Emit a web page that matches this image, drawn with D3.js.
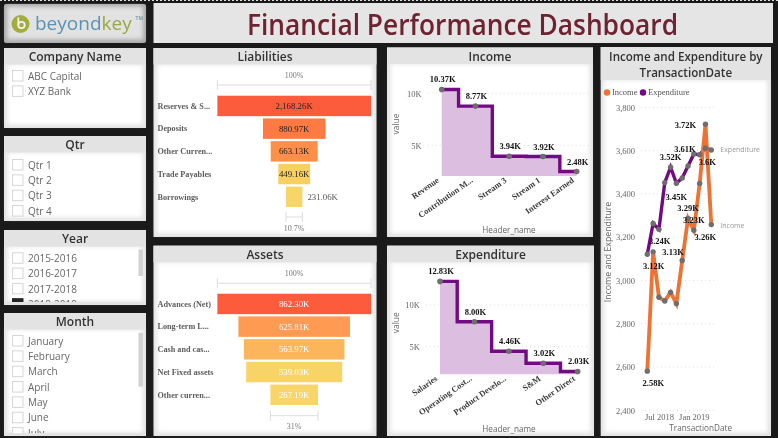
<!DOCTYPE html>
<html><head><meta charset="utf-8">
<script src="https://cdn.jsdelivr.net/npm/d3@7"></script>
<style>
html,body{margin:0;padding:0;background:#1a1a1a;overflow:hidden}
svg{display:block;filter:blur(0.45px);font-family:"Open Sans",sans-serif}
.serif{font-family:"Liberation Serif",serif}
</style></head><body><svg id="c" width="778" height="438"></svg>
<script>
const companies=["ABC Capital","XYZ Bank"];
const quarters=["Qtr 1","Qtr 2","Qtr 3","Qtr 4"];
const years=["2015-2016","2016-2017","2017-2018","2018-2019"];
const months=["January","February","March","April","May","June","July"];

const liabNames=["Reserves & S...","Deposits","Other Curren...","Trade Payables","Borrowings"];
const liabValues=[2168.26,880.97,663.13,449.16,231.06];
const liabColors=["#fd5c3c","#fd7a42","#fe8f48","#f8d060","#f7d568"];
const assetNames=["Advances (Net)","Long-term L...","Cash and cas...","Net Fixed assets","Other curren..."];
const assetValues=[862.30,625.81,563.97,539.03,267.19];
const assetColors=["#fd5c3c","#fe9a52","#fbb65c","#f8d468","#f8d568"];

const incomeNames=["Revenue","Contribution M...","Stream 3","Stream 1","Interest Earned"];
const incomeValues=[10370,8770,3940,3920,2480];
const expNames=["Salaries","Operating Cost...","Product Develo...","S&M","Other Direct"];
const expValues=[12830,8000,4460,3020,2030];

const dates=["May 2018","Jun 2018","Jul 2018","Aug 2018","Sep 2018","Oct 2018","Nov 2018","Dec 2018","Jan 2019","Feb 2019","Mar 2019","Apr 2019"];
const trendIncome=[2581,3132,2922,2905,2945,2893,3092,3286,3232,3448,3722,3258];
const trendExpenditure=[3121,3263,3236,3452,3523,3449,3473,3529,3584,3581,3611,3603];
const trendTicks=[2400,2600,2800,3000,3200,3400,3600,3800];
const dateTicks=["Jul 2018","Jan 2019"];

const svg=d3.select("#c");
const defs=svg.append("defs");
const blur=defs.append("filter").attr("id","soft").attr("x","-10%").attr("y","-10%").attr("width","120%").attr("height","120%");
blur.append("feGaussianBlur").attr("stdDeviation",2.2);
const PURPLE="#720a84",ORANGE="#ed7233",DOT="#6e6e6e",GREY="#666";

svg.append("rect").attr("width",778).attr("height",438).attr("fill","#1a1a1a");
svg.append("line").attr("x1",0).attr("x2",778).attr("y1",.5).attr("y2",.5).attr("stroke","#ddd").attr("stroke-dasharray","2 2");

function panel(x,y,w,h,title,headH,fs,clipId){
  svg.append("rect").attr("x",x).attr("y",y).attr("width",w).attr("height",h).attr("fill","#e3e3e3");
  if(clipId){
    defs.append("clipPath").attr("id",clipId).append("rect").attr("x",x).attr("y",y).attr("width",w).attr("height",h);
  }
  svg.append("rect").attr("x",x+3.5).attr("y",y+headH).attr("width",w-7).attr("height",h-headH-3.5).attr("fill","#fff").attr("filter","url(#soft)");
  svg.append("rect").attr("x",x).attr("y",y).attr("width",w).attr("height",headH).attr("fill","#e3e3e3");
  if(title) [].concat(title).forEach((t,i)=>svg.append("text").attr("x",x+w/2).attr("y",y+headH*0.5+(i-([].concat(title).length-1)/2)*16+5)
    .attr("text-anchor","middle").attr("font-size",fs||12).attr("font-weight",600).attr("fill","#333").text(t));
}

/* logo and title */
svg.append("rect").attr("x",4).attr("y",4).attr("width",142).attr("height",39).attr("rx",2).attr("fill","#a9a9a9");
svg.append("rect").attr("x",7).attr("y",6.5).attr("width",136).attr("height",33).attr("fill","#e2e2e2").attr("filter","url(#soft)");
svg.append("circle").attr("cx",20.5).attr("cy",24).attr("r",9).attr("fill","#a3ad3b");
svg.append("circle").attr("cx",21.5).attr("cy",25).attr("r",3.2).attr("fill","none").attr("stroke","#f2f2f2").attr("stroke-width",1.8);
svg.append("line").attr("x1",18.3).attr("x2",18.3).attr("y1",17.5).attr("y2",25).attr("stroke","#f2f2f2").attr("stroke-width",1.8);
const lt=svg.append("text").attr("x",35).attr("y",29.5).attr("font-size",19);
lt.append("tspan").attr("fill","#5b92b4").text("beyond");
lt.append("tspan").attr("fill","#9aa845").text("key");
svg.append("text").attr("x",135.5).attr("y",20).attr("font-size",5).attr("font-weight",700).attr("fill","#7aa0b0").text("TM");

svg.append("rect").attr("x",153.5).attr("y",3).attr("width",619.5).attr("height",40).attr("fill","#e5e5e5");
svg.append("text").attr("x",462.5).attr("y",34.5).attr("text-anchor","middle").attr("font-size",28).attr("font-weight",600).attr("fill","#6e2330")
  .attr("textLength",431).attr("lengthAdjust","spacingAndGlyphs").text("Financial Performance Dashboard");

/* slicers */
function slicer(x,y,w,h,title,items,firstY,step,opts){
  opts=opts||{};
  const id="clip"+title.replace(/\s/g,"");
  panel(x,y,w,h,title,16.5,12,id);
  if(opts.scroll) svg.append("rect").attr("x",138.5).attr("y",opts.scroll[0]).attr("width",4.5).attr("height",opts.scroll[1]).attr("fill","#d4d2d0");
  const g=svg.append("g").attr("clip-path",`url(#${id})`);
  const rows=g.selectAll("g").data(items).join("g").attr("transform",(d,i)=>`translate(0,${firstY+i*step})`);
  rows.append("rect").attr("x",12.5).attr("y",-5.5).attr("width",10.5).attr("height",10.5)
    .attr("fill",d=>d===opts.selected?"#252525":"#fff").attr("stroke",d=>d===opts.selected?"#252525":"#d6d6d6");
  rows.append("text").attr("x",28).attr("y",3.6).attr("font-size",10).attr("fill","#666").text(d=>d);
  if(opts.scroll) svg.append("rect").attr("x",x).attr("y",y+h-3).attr("width",w).attr("height",3).attr("fill","#e3e3e3");
}
slicer(4,48,142,80,"Company Name",companies,76,15.4);
slicer(4,136,142,85,"Qtr",quarters,165,15.35);
slicer(4,230,142,75,"Year",years,258.3,15.3,{scroll:[249.5,26.5],selected:"2018-2019"});
slicer(4,313,142,123,"Month",months,341,15.35,{scroll:[332.7,54]});

/* funnels */
function funnel(py,ph,title,names,vals,cols,labelCol,lastOut,pct,top,lineTop,lineBot){
  panel(153.5,py,223,ph,title,16.5,12);
  const cx=294.2,full=153.7;
  const w=d3.scaleLinear().domain([0,d3.max(vals)]).range([0,full]);
  const y=d3.scaleBand().domain(names).range([top,top+111.3]).paddingInner(0.1).paddingOuter(0);
  const g=svg.append("g");
  g.selectAll("rect").data(vals).join("rect").attr("x",d=>cx-w(d)/2).attr("y",(d,i)=>y(names[i])).attr("width",d=>w(d)).attr("height",y.bandwidth()).attr("fill",(d,i)=>cols[i]);
  g.selectAll("text.n").data(names).join("text").attr("class","n serif").attr("x",157.5).attr("y",d=>y(d)+y.bandwidth()/2+2.8).attr("font-size",8.2).attr("font-weight",700).attr("fill","#5c5c5c").text(d=>d);
  g.selectAll("text.v").data(vals).join("text").attr("class","v serif")
    .attr("x",(d,i)=>lastOut&&i===vals.length-1?cx+w(d)/2+5:cx)
    .attr("text-anchor",(d,i)=>lastOut&&i===vals.length-1?"start":"middle")
    .attr("y",(d,i)=>y(names[i])+y.bandwidth()/2+3)
    .attr("font-size",8.8).attr("fill",(d,i)=>lastOut&&i===vals.length-1?"#555":labelCol)
    .text(d=>d3.format(",.2f")(d)+"K");
  const rng=(half,yy)=>{g.append("path").attr("d",`M${cx-half},${yy-5}V${yy+5}M${cx-half},${yy}H${cx+half}M${cx+half},${yy-5}V${yy+5}`).attr("fill","none").attr("stroke","#dcdcdc").attr("stroke-width",1);};
  rng(full/2,lineTop); rng(w(d3.min(vals))/2,lineBot);
  g.append("text").attr("class","serif").attr("x",cx).attr("y",lineTop-7.5).attr("text-anchor","middle").attr("font-size",8).attr("fill","#777").text("100%");
  g.append("text").attr("class","serif").attr("x",cx).attr("y",lineBot+13.5).attr("text-anchor","middle").attr("font-size",8).attr("fill","#777").text(pct);
}
funnel(48,189,"Liabilities",liabNames,liabValues,liabColors,"#222",true,"10.7%",95.7,85,217);
funnel(245.7,190.3,"Assets",assetNames,assetValues,assetColors,"#fff",false,"31%",293.7,283.3,415.7);

/* stepped area charts */
function stepChart(px,py,pw,ph,title,names,vals,xr,y0px,y10px,basePx,ticks,labelDy,valueY){
  panel(px,py,pw,ph,title,16.5,12);
  const x=d3.scalePoint().domain(names).range(xr);
  const y=d3.scaleLinear().domain([5000,10000]).range([y0px,y10px]);
  const g=svg.append("g");
  const ax=g.append("g").attr("transform",`translate(${xr[0]-14},0)`).call(d3.axisLeft(y).tickValues(ticks).tickFormat(d=>d/1000+"K").tickSize(0).tickPadding(6));
  ax.select(".domain").remove();
  ax.selectAll("text").attr("class","serif").attr("font-size",8.5).attr("fill",GREY);
  ticks.forEach(t=>g.append("line").attr("x1",xr[0]-14).attr("x2",590).attr("y1",y(t)).attr("y2",y(t)).attr("stroke","#d8d8d8").attr("stroke-width",.8).attr("stroke-dasharray","1 3"));
  const area=d3.area().x((d,i)=>x(names[i])).y0(basePx).y1(d=>y(d)).curve(d3.curveStep);
  const line=d3.line().x((d,i)=>x(names[i])).y(d=>y(d)).curve(d3.curveStep);
  g.append("path").attr("d",area(vals)).attr("fill","#dcbfe0");
  g.append("path").attr("d",line(vals)).attr("fill","none").attr("stroke",PURPLE).attr("stroke-width",3.4);
  g.selectAll("circle").data(vals).join("circle").attr("cx",(d,i)=>x(names[i])).attr("cy",d=>y(d)).attr("r",2.8).attr("fill",DOT);
  g.selectAll("text.d").data(vals).join("text").attr("class","d serif").attr("x",(d,i)=>x(names[i])+1).attr("y",d=>y(d)+labelDy)
    .attr("text-anchor","middle").attr("font-size",8.5).attr("font-weight",700).attr("fill","#111").text(d=>(d/1000).toFixed(2)+"K");
  g.selectAll("text.c").data(names).join("text").attr("class","c serif")
    .attr("transform",d=>`translate(${x(d)-2},${basePx+5.5}) rotate(-35)`).attr("text-anchor","end")
    .attr("font-size",8.5).attr("font-weight",700).attr("fill","#3a3a3a").text(d=>d);
  g.append("text").attr("x",509).attr("y",py+ph-4.5).attr("text-anchor","middle").attr("font-size",8.2).attr("fill",GREY).text("Header_name");
  g.append("text").attr("transform",`translate(398.5,${valueY}) rotate(-90)`).attr("text-anchor","middle").attr("font-size",8.5).attr("fill",GREY).text("value");
}
stepChart(387,47.5,206,189.5,"Income",incomeNames,incomeValues,[441.7,576.7],145.3,93.3,176,[5000,10000],-7,124);
stepChart(387,245.7,207,190.3,"Expenditure",expNames,expValues,[440,577.7],346.7,305,374.3,[5000,10000],-7,322.7);

/* trend chart */
panel(600.7,47,170.3,389,["Income and Expenditure by","TransactionDate"],33,11.6);
const tx=d3.scalePoint().domain(dates).range([647.3,711.3]);
const ty=d3.scaleLinear().domain([2400,3800]).range([410.3,107.3]);
const tg=svg.append("g");
const yAx=tg.append("g").attr("transform","translate(640,0)").call(d3.axisLeft(ty).tickValues(trendTicks).tickFormat(d3.format(",")).tickSize(0).tickPadding(5));
yAx.select(".domain").remove();
yAx.selectAll("text").attr("class","serif").attr("font-size",8.5).attr("fill",GREY);
trendTicks.forEach(t=>tg.append("line").attr("x1",641).attr("x2",717).attr("y1",ty(t)).attr("y2",ty(t)).attr("stroke","#d8d8d8").attr("stroke-width",.8).attr("stroke-dasharray","1 3"));
const xAx=tg.append("g").attr("transform","translate(0,410)").call(d3.axisBottom(tx).tickValues(dateTicks).tickSize(0).tickPadding(4));
xAx.select(".domain").remove();
xAx.selectAll("text").attr("class","serif").attr("font-size",8.5).attr("fill",GREY);
const tline=d3.line().x((d,i)=>tx(dates[i])).y(d=>ty(d));
tg.append("path").attr("d",tline(trendExpenditure)).attr("fill","none").attr("stroke",PURPLE).attr("stroke-width",3.4);
tg.append("path").attr("d",tline(trendIncome)).attr("fill","none").attr("stroke",ORANGE).attr("stroke-width",3.8);
[trendExpenditure,trendIncome].forEach(s=>s.forEach((d,i)=>tg.append("circle").attr("cx",tx(dates[i])).attr("cy",ty(d)).attr("r",2.7).attr("fill",DOT)));
function tLabels(series,idx,offs){
  idx.forEach((k,j)=>{
    const t=(series[k]/1000).toFixed(2).replace(/0$/,"");
    tg.append("text").attr("class","serif").attr("x",tx(dates[k])+offs[j][0]).attr("y",ty(series[k])+offs[j][1]+3)
      .attr("text-anchor","middle").attr("font-size",8.5).attr("font-weight",700).attr("fill","#111").text(t+"K");
  });
}
tLabels(trendIncome,[0,1,7,8,10,11],[[6,11.7],[20,.3],[0,-11],[0,-10],[-20,.7],[-6,12.4]]);
tLabels(trendExpenditure,[0,2,3,4,10,11],[[6.4,12],[.7,11.7],[11.5,14],[0,-10.7],[-20.5,1],[-4,12.3]]);
tg.append("text").attr("x",720.3).attr("y",ty(trendExpenditure[11])+2.5).attr("font-size",7).attr("fill","#999").text("Expenditure");
tg.append("text").attr("x",720.3).attr("y",ty(trendIncome[11])+3).attr("font-size",7).attr("fill","#999").text("Income");
tg.append("text").attr("transform","translate(611,252) rotate(-90)").attr("text-anchor","middle").attr("font-size",8.8).attr("fill",GREY).text("Income and Expenditure");
tg.append("text").attr("x",700.7).attr("y",431).attr("text-anchor","middle").attr("font-size",8.2).attr("fill",GREY).text("TransactionDate");
[["Income",607,ORANGE,612],["Expenditure",643,PURPLE,648]].forEach(l=>{
  tg.append("circle").attr("cx",l[1]).attr("cy",92.5).attr("r",3.2).attr("fill",l[2]);
  tg.append("text").attr("class","serif").attr("x",l[3]).attr("y",95.3).attr("font-size",8.5).attr("fill","#555").text(l[0]);
});
</script></body></html>
